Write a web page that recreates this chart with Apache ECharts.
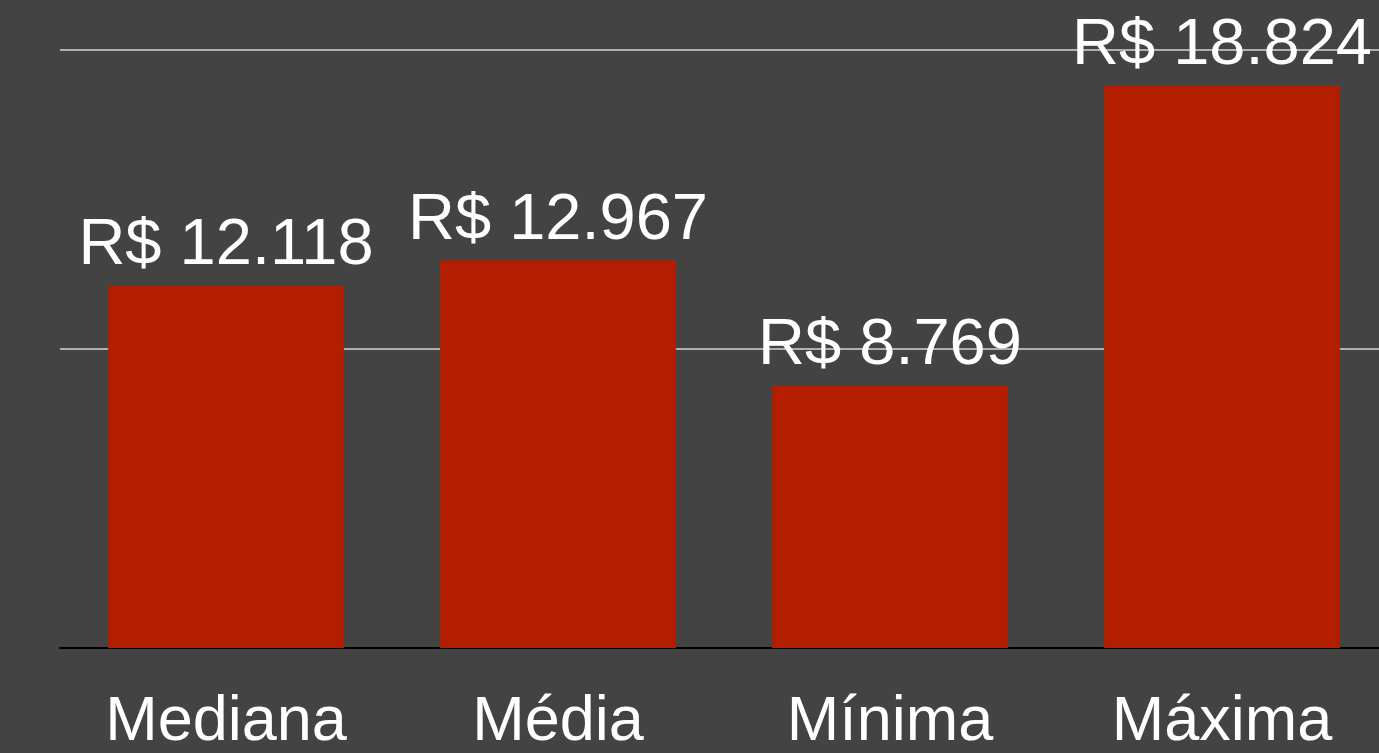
<!DOCTYPE html>
<html>
<head>
<meta charset="utf-8">
<script src="https://cdn.jsdelivr.net/npm/echarts@6/dist/echarts.min.js"></script>
<style>
  html, body { margin: 0; padding: 0; background: #434343; }
  #chart { width: 1379px; height: 753px; }
</style>
</head>
<body>
<div id="chart"></div>
<script>
// valores em R$
var categories = ['Mediana', 'Média', 'Mínima', 'Máxima']
var values = [12118, 12967, 8769, 18824]

function brl (v) {
  return 'R$ ' + String(v).replace(/\B(?=(\d{3})+(?!\d))/g, '.')
}

var chart = echarts.init(document.getElementById('chart'))
chart.setOption({
  backgroundColor: '#434343',
  animation: false,
  textStyle: { fontFamily: 'Liberation Sans, Arial, sans-serif' },
  grid: { left: 60, top: 50, bottom: 105, width: 1328, outerBoundsMode: 'none', containLabel: false },
  xAxis: {
    type: 'category',
    data: categories,
    axisLine: { lineStyle: { color: '#000', width: 2 } },
    axisTick: { show: false },
    axisLabel: { color: '#fff', fontSize: 63, margin: 43 }
  },
  yAxis: {
    type: 'value',
    min: 0,
    max: 20000,
    interval: 10000,
    axisLabel: { show: false },
    axisLine: { show: false },
    axisTick: { show: false },
    splitLine: { lineStyle: { color: '#b0b0b0', width: 2 } }
  },
  series: [{
    type: 'bar',
    data: values,
    barWidth: '71%',
    itemStyle: { color: '#b31e00' },
    label: {
      show: true,
      position: 'top',
      distance: 7,
      color: '#fff',
      fontSize: 65,
      formatter: p => brl(p.value)
    }
  }]
})
</script>
</body>
</html>
